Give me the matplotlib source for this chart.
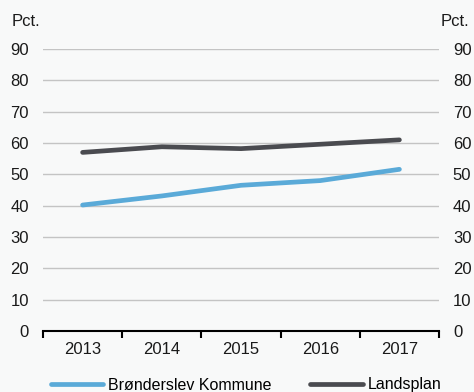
import numpy as np
import matplotlib
matplotlib.use("Agg")
import matplotlib.pyplot as plt
from matplotlib.ticker import FixedLocator

plt.rcParams["font.family"] = ["Liberation Sans", "DejaVu Sans"]

years = ["2013", "2014", "2015", "2016", "2017"]
broenderslev = [40.2, 43.1, 46.5, 48.0, 51.6]
landsplan = [57.0, 58.8, 58.2, 59.6, 61.0]
yticks = [0, 10, 20, 30, 40, 50, 60, 70, 80, 90]

BG = "#f8f9f9"
BLUE = "#5aaad8"
DARK = "#4a4b50"
FS = 12

fig = plt.figure(figsize=(4.74, 3.92), dpi=100, facecolor=BG)
ax = fig.add_axes([43 / 474, 61 / 392, 396 / 474, 282 / 392], facecolor=BG)

x = np.arange(len(years))
ax.plot(x, broenderslev, color=BLUE, lw=3.4, solid_capstyle="round", label="Brønderslev Kommune")
ax.plot(x, landsplan, color=DARK, lw=3.4, solid_capstyle="round", label="Landsplan")

ax.set_xlim(-0.5, len(years) - 0.5)
ax.set_ylim(0, 90)
ax.set_yticks(yticks)
ax.grid(axis="y", color="#c4c4c4", lw=1)
ax.set_axisbelow(True)
for s in ["top", "left", "right"]:
    ax.spines[s].set_visible(False)
ax.spines["bottom"].set_color("black")
ax.spines["bottom"].set_linewidth(1.5)

ax.set_xticks(x)
ax.set_xticklabels(years, fontsize=FS, color="#1a1a1a")
ax.tick_params(axis="x", which="major", length=0, pad=8)
ax.xaxis.set_minor_locator(FixedLocator(np.arange(-0.5, len(years), 1)))
ax.tick_params(axis="x", which="minor", length=5, width=1.5, color="black", direction="out")

ax.tick_params(axis="y", length=0, labelsize=FS, labelcolor="#1a1a1a", pad=10,
               labelleft=True, labelright=True)

fig.text(12 / 474, 1 - 22 / 392, "Pct.", fontsize=FS, color="#1a1a1a", va="center", ha="left")
fig.text(469 / 474, 1 - 22 / 392, "Pct.", fontsize=FS, color="#1a1a1a", va="center", ha="right")

fig.legend(loc="center", bbox_to_anchor=(246 / 474, 1 - 385 / 392), ncol=2, frameon=False,
           fontsize=11.5, handlelength=3.3, handletextpad=0.3, columnspacing=2.4)

fig.savefig("out.png", dpi=100, facecolor=BG)
